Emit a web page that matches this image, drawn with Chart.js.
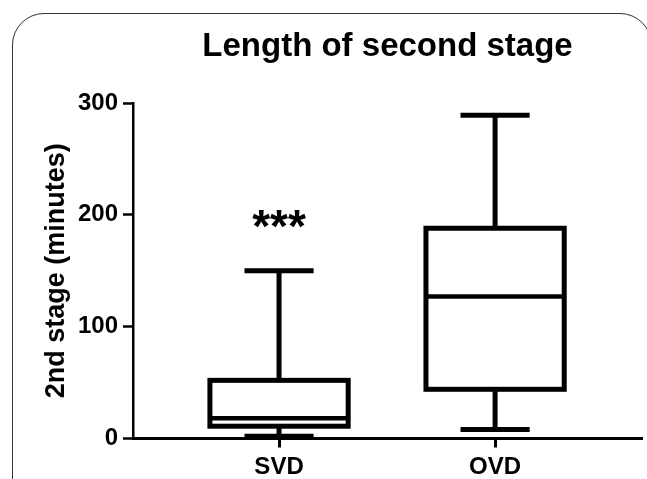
<!DOCTYPE html>
<html>
<head>
<meta charset="utf-8">
<script src="https://cdn.jsdelivr.net/npm/chart.js@4.4.1/dist/chart.umd.min.js"></script>
<style>
  html, body { margin: 0; padding: 0; background: #fff; overflow: hidden; }
  #wrap { position: relative; width: 647px; height: 479px; }
  #frame {
    position: absolute; left: 12px; top: 13px; width: 640px; height: 520px;
    border: 1.5px solid #333; border-radius: 32px; box-sizing: border-box;
  }
  canvas { position: absolute; left: 0; top: 0; }
</style>
</head>
<body>
<div id="wrap">
  <div id="frame"></div>
  <canvas id="chart" width="647" height="479"></canvas>
</div>
<script>
// data (minutes)
const categories = ['SVD', 'OVD'];
const whiskerLow = [2, 8];
const q1 = [11, 44];
const median = [18, 127];
const q3 = [52, 188];
const whiskerHigh = [150, 289];
const yTicks = [0, 100, 200, 300];
const annotText = ['***', ''];
const annotY = [176, null];

Chart.defaults.font.family = "'Liberation Sans', Arial, sans-serif";
Chart.defaults.color = '#000';

// whiskers, caps, box outline and median on top of the bars
const boxPlot = {
   id: 'boxPlot',
   afterDatasetsDraw(chart) {
      const ctx = chart.ctx, y = chart.scales.y;
      const meta = chart.getDatasetMeta(0);
      ctx.save();
      ctx.strokeStyle = '#000';
      ctx.lineCap = 'butt';
      meta.data.forEach((bar, i) => {
         const half = bar.width / 2, cap = bar.width / 4;
         const yLo = y.getPixelForValue(whiskerLow[i]);
         const yHi = y.getPixelForValue(whiskerHigh[i]);
         const yMed = y.getPixelForValue(median[i]);
         ctx.lineWidth = 5;
         ctx.beginPath();
         ctx.moveTo(bar.x, yHi); ctx.lineTo(bar.x, bar.y);
         ctx.moveTo(bar.x, bar.base); ctx.lineTo(bar.x, yLo);
         ctx.moveTo(bar.x - cap, yHi); ctx.lineTo(bar.x + cap, yHi);
         ctx.moveTo(bar.x - cap, yLo); ctx.lineTo(bar.x + cap, yLo);
         ctx.stroke();
         ctx.strokeRect(bar.x - half, bar.y, bar.width, bar.base - bar.y);
         ctx.lineWidth = 4.5;
         ctx.beginPath();
         ctx.moveTo(bar.x - half, yMed); ctx.lineTo(bar.x + half, yMed);
         ctx.stroke();
         if (annotText[i]) {
            ctx.font = "bold 46px 'Liberation Sans', Arial, sans-serif";
            ctx.fillStyle = '#000';
            ctx.textAlign = 'center';
            ctx.textBaseline = 'alphabetic';
            ctx.fillText(annotText[i], bar.x, y.getPixelForValue(annotY[i]));
         }
      });
      ctx.restore();
   }
};

const chart = new Chart(document.getElementById('chart').getContext('2d'), {
   type: 'bar',
   data: {
      datasets: [{
         data: categories.map((c, i) => ({ x: i + 1, y: [q1[i], q3[i]] })),
         backgroundColor: '#fff',
         borderWidth: 0,
         categoryPercentage: 1,
         barPercentage: 0.64
      }]
   },
   options: {
      responsive: false,
      animation: false,
      layout: { padding: { left: 0, right: 5, top: 0, bottom: 0 } },
      plugins: {
         legend: { display: false },
         tooltip: { enabled: false },
         title: {
            display: true,
            text: 'Length of second stage',
            fullSize: false,
            color: '#000',
            font: { size: 33, weight: 'bold' },
            padding: { top: 27, bottom: 36.4 }
         }
      },
      scales: {
         x: {
            type: 'linear',
            min: 0.324,
            max: 2.68,
            offset: false,
            afterBuildTicks: (s) => { s.ticks = categories.map((c, i) => ({ value: i + 1 })); },
            afterFit: (s) => { s.height = 40.5; },
            ticks: {
               callback: (v) => categories[v - 1],
               font: { size: 24, weight: 'bold' },
               color: '#000',
               padding: 5,
               maxRotation: 0
            },
            grid: { offset: false, drawOnChartArea: false, tickLength: 9, tickWidth: 3, tickColor: '#000' },
            border: { color: '#000', width: 3 }
         },
         y: {
            min: 0,
            max: 300,
            afterBuildTicks: (s) => { s.ticks = yTicks.map(v => ({ value: v })); },
            afterFit: (s) => { s.width = 133; },
            ticks: { font: { size: 24, weight: 'bold' }, color: '#000', padding: 5 },
            grid: { drawOnChartArea: false, tickLength: 10, tickWidth: 2.5, tickColor: '#000' },
            border: { color: '#000', width: 2.5 },
            title: {
               display: true,
               text: '2nd stage (minutes)',
               color: '#000',
               font: { size: 27, weight: 'bold' },
               padding: { top: 40, bottom: 0 }
            }
         }
      }
   },
   plugins: [boxPlot]
});
</script>
</body>
</html>
